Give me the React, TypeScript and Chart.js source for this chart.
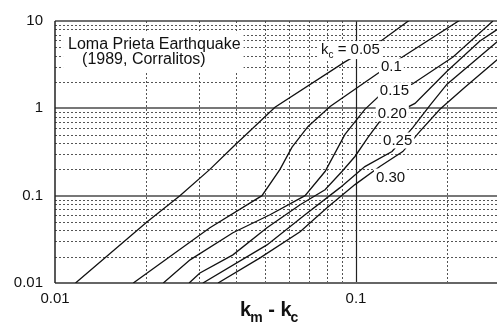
import React, { useEffect, useRef } from "react";
import { Chart, registerables } from "chart.js";

Chart.register(...registerables);

// ---- data ----
const kcNames = ["0.05", "0.1", "0.15", "0.20", "0.25", "0.30"];

const x005 = [0.0117, 0.0202, 0.026, 0.0327, 0.039, 0.0538, 0.0919, 0.121, 0.151];
const y005 = [0.01, 0.05, 0.1, 0.2, 0.36, 1.03, 3.4, 5.9, 10.3];

const x010 = [0.0182, 0.0327, 0.0487, 0.0559, 0.0613, 0.0693, 0.082, 0.118, 0.143, 0.222];
const y010 = [0.01, 0.043, 0.1, 0.2, 0.36, 0.62, 1.05, 2.5, 3.9, 10.3];

const x015 = [0.0229, 0.0281, 0.039, 0.0518, 0.0677, 0.0789, 0.0919, 0.107, 0.122, 0.1535, 0.21, 0.285];
const y015 = [0.01, 0.0184, 0.0376, 0.0605, 0.1, 0.189, 0.503, 0.974, 1.49, 1.89, 3.86, 10.0];

const x020 = [0.0279, 0.0303, 0.039, 0.0506, 0.0652, 0.0789, 0.0898, 0.0992, 0.1096, 0.12, 0.157, 0.2006, 0.258, 0.296];
const y020 = [0.01, 0.013, 0.021, 0.0429, 0.0788, 0.117, 0.189, 0.281, 0.464, 0.709, 1.14, 2.66, 5.89, 8.09];

const x025 = [0.031, 0.0506, 0.0677, 0.0885, 0.107, 0.1317, 0.1546, 0.176, 0.2006, 0.296];
const y025 = [0.01, 0.0273, 0.0605, 0.1236, 0.2154, 0.32, 0.605, 1.082, 1.89, 5.89];

const x030 = [0.0348, 0.048, 0.0652, 0.0801, 0.0992, 0.12, 0.143, 0.163, 0.19, 0.23, 0.296];
const y030 = [0.01, 0.0194, 0.0386, 0.0728, 0.1338, 0.2154, 0.32, 0.544, 0.974, 1.74, 3.66];

const seriesX = [x005, x010, x015, x020, x025, x030];
const seriesY = [y005, y010, y015, y020, y025, y030];

const xTickValues = [0.01, 0.1];
const yTickValues = [0.01, 0.1, 1, 10];
const xMin = 0.01;
const xMax = 0.294;
const yMin = 0.01;
const yMax = 10;
const decades = [0.01, 0.1, 1];
const gridMultiples = [2, 3, 4, 5, 6, 7, 8, 9];
const majorY = [0.1, 1];
const majorX = [0.1];

// annotation text anchors (data coordinates)
const noteLines = ["Loma Prieta Earthquake", "(1989, Corralitos)"];
const noteX = [0.01105, 0.0123];
const noteY = [4.77, 3.2];
const kcLabelX = [0.0765, 0.121, 0.12, 0.118, 0.123, 0.1165];
const kcLabelY = [4.18, 2.66, 1.41, 0.767, 0.3755, 0.145];
const titleAnchorX = 0.0412;

const FONT = "'Liberation Sans', Arial, Helvetica, sans-serif";
const INK = "#111";

const gridPlugin = {
  id: "logGridAndLabels",
  beforeDatasetsDraw(chart: any) {
    const { ctx, chartArea: a, scales } = chart;
    const xs = scales.x;
    const ys = scales.y;
    ctx.save();
    const line = (x1: number, y1: number, x2: number, y2: number) => {
      ctx.beginPath();
      ctx.moveTo(x1, y1);
      ctx.lineTo(x2, y2);
      ctx.stroke();
    };
    // minor dotted grid
    ctx.lineWidth = 1;
    ctx.strokeStyle = "#555";
    ctx.setLineDash([2, 2]);
    for (const d of decades) {
      for (const m of gridMultiples) {
        const v = d * m;
        if (v > yMin && v < yMax) {
          const p = Math.round(ys.getPixelForValue(v)) + 0.5;
          line(a.left, p, a.right, p);
        }
        if (v > xMin && v < xMax) {
          const p = Math.round(xs.getPixelForValue(v)) + 0.5;
          line(p, a.top, p, a.bottom);
        }
      }
    }
    ctx.setLineDash([]);
    // major horizontal
    ctx.strokeStyle = "#777";
    ctx.lineWidth = 2;
    for (const v of majorY) {
      const p = Math.round(ys.getPixelForValue(v));
      line(a.left, p, a.right, p);
    }
    // major vertical
    ctx.strokeStyle = "#222";
    ctx.lineWidth = 1.2;
    for (const v of majorX) {
      const p = Math.round(xs.getPixelForValue(v)) + 0.5;
      line(p, a.top, p, a.bottom);
    }
    // frame
    ctx.strokeStyle = "#444";
    ctx.lineWidth = 1.5;
    line(a.left, a.top, a.right, a.top);
    ctx.strokeStyle = "#666";
    ctx.lineWidth = 2;
    line(a.left, a.bottom, a.right, a.bottom);
    ctx.strokeStyle = "#222";
    ctx.lineWidth = 1.5;
    line(a.left, a.top, a.left, a.bottom);

    // note box
    ctx.font = `16px ${FONT}`;
    let minX = Infinity, maxX = -Infinity, minY = Infinity, maxY = -Infinity;
    noteLines.forEach((t, i) => {
      const px = xs.getPixelForValue(noteX[i]);
      const py = ys.getPixelForValue(noteY[i]);
      const w = ctx.measureText(t).width;
      minX = Math.min(minX, px);
      maxX = Math.max(maxX, px + w);
      minY = Math.min(minY, py - 14);
      maxY = Math.max(maxY, py + 5);
    });
    ctx.fillStyle = "#fff";
    ctx.fillRect(minX - 5, minY - 2, maxX - minX + 8, maxY - minY + 4);
    ctx.fillStyle = INK;
    ctx.textBaseline = "alphabetic";
    noteLines.forEach((t, i) => {
      ctx.fillText(t, xs.getPixelForValue(noteX[i]), ys.getPixelForValue(noteY[i]));
    });
    ctx.restore();
  },
  afterDatasetsDraw(chart: any) {
    const { ctx, chartArea: a, scales } = chart;
    const xs = scales.x;
    const ys = scales.y;
    ctx.save();
    ctx.textBaseline = "alphabetic";
    kcNames.forEach((name, i) => {
      const px = xs.getPixelForValue(kcLabelX[i]);
      const py = ys.getPixelForValue(kcLabelY[i]);
      ctx.font = `15px ${FONT}`;
      if (i === 0) {
        const kW = ctx.measureText("k").width;
        ctx.font = `10px ${FONT}`;
        const cW = ctx.measureText("c").width;
        ctx.font = `15px ${FONT}`;
        const rest = " = " + name;
        const rW = ctx.measureText(rest).width;
        const total = kW + cW + rW;
        ctx.fillStyle = "#fff";
        ctx.fillRect(px - 2, py - 13, total + 4, 18);
        ctx.fillStyle = INK;
        ctx.fillText("k", px, py);
        ctx.font = `10px ${FONT}`;
        ctx.fillText("c", px + kW, py + 4);
        ctx.font = `15px ${FONT}`;
        ctx.fillText(rest, px + kW + cW, py);
      } else {
        const w = ctx.measureText(name).width;
        ctx.fillStyle = "#fff";
        ctx.fillRect(px - 2, py - 13, w + 4, 16);
        ctx.fillStyle = INK;
        ctx.fillText(name, px, py);
      }
    });
    // axis title  k_m - k_c
    const tx = xs.getPixelForValue(titleAnchorX);
    const ty = a.bottom + 33;
    ctx.fillStyle = INK;
    ctx.font = `bold 20px ${FONT}`;
    ctx.fillText("k", tx, ty);
    let cx = tx + ctx.measureText("k").width - 1;
    ctx.font = `bold 14px ${FONT}`;
    ctx.fillText("m", cx, ty + 6);
    cx += ctx.measureText("m").width;
    ctx.font = `bold 20px ${FONT}`;
    ctx.fillText(" - k", cx, ty);
    cx += ctx.measureText(" - k").width - 1;
    ctx.font = `bold 14px ${FONT}`;
    ctx.fillText("c", cx, ty + 6);
    ctx.restore();
  },
};

export default function App() {
  const ref = useRef<HTMLCanvasElement | null>(null);
  useEffect(() => {
    if (!ref.current) return;
    const datasets = kcNames.map((name, i) => ({
      label: "kc = " + name,
      data: seriesX[i].map((x, j) => ({ x, y: seriesY[i][j] })),
      borderColor: INK,
      borderWidth: 1.3,
      pointRadius: 0,
      fill: false,
      tension: 0,
    }));
    const chart = new Chart(ref.current, {
      type: "line",
      data: { datasets },
      options: {
        animation: false,
        responsive: true,
        maintainAspectRatio: false,
        layout: { padding: { top: 21, right: 1, left: 0, bottom: 0 } },
        plugins: { legend: { display: false }, tooltip: { enabled: false } },
        scales: {
          x: {
            type: "logarithmic",
            min: xMin,
            max: xMax,
            grid: { display: false, drawTicks: false },
            border: { display: false },
            afterBuildTicks: (s: any) => {
              s.ticks = xTickValues.map((v) => ({ value: v }));
            },
            afterFit: (s: any) => {
              s.height = 39;
            },
            ticks: {
              autoSkip: false,
              maxRotation: 0,
              padding: 7,
              color: INK,
              font: { family: FONT, size: 15 },
              callback: (v: any) => String(v),
            },
          },
          y: {
            type: "logarithmic",
            min: yMin,
            max: yMax,
            grid: { display: false, drawTicks: false },
            border: { display: false },
            afterBuildTicks: (s: any) => {
              s.ticks = yTickValues.map((v) => ({ value: v }));
            },
            afterFit: (s: any) => {
              s.width = 55;
            },
            ticks: {
              autoSkip: false,
              padding: 12,
              color: INK,
              font: { family: FONT, size: 15 },
              callback: (v: any) => String(v),
            },
          },
        },
      },
      plugins: [gridPlugin],
    });
    return () => chart.destroy();
  }, []);
  return (
    <div style={{ position: "fixed", left: 0, top: 0, width: 498, height: 322, background: "#fff" }}>
      <canvas ref={ref} />
    </div>
  );
}
